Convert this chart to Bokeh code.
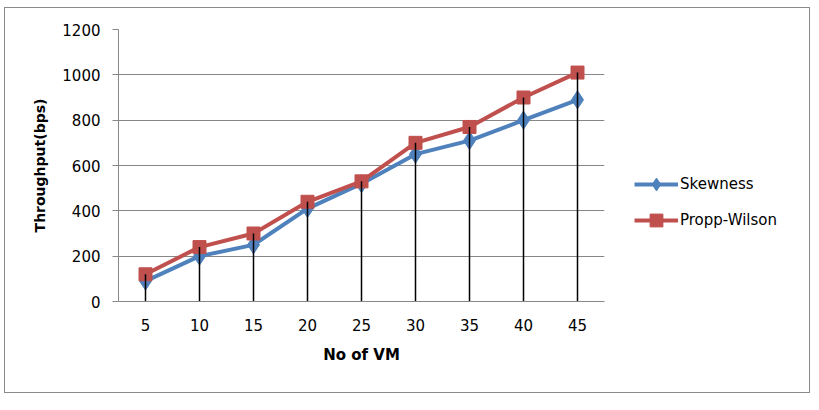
from bokeh.plotting import figure
from bokeh.models import ColumnDataSource, Legend, LegendItem, FixedTicker, Range1d, FactorRange
from bokeh.embed import file_html
from bokeh.resources import INLINE

# ---- data ----
vms = ["5", "10", "15", "20", "25", "30", "35", "40", "45"]
skewness = [90, 200, 250, 410, 520, 650, 710, 800, 890]
propp_wilson = [120, 240, 300, 440, 530, 700, 770, 900, 1010]
y_ticks = [0, 200, 400, 600, 800, 1000, 1200]

FONT = "DejaVu Sans"
BLUE = "#4F81BD"
RED = "#C0504D"
GRID = "#878787"

src = ColumnDataSource(dict(
    x=vms, s=skewness, p=propp_wilson,
    top=[max(a, b) for a, b in zip(skewness, propp_wilson)],
    zero=[0] * len(vms),
))

p = figure(
    frame_width=486, frame_height=272,
    x_range=FactorRange(factors=vms, range_padding=0),
    y_range=Range1d(0, 1200),
    output_backend="svg", toolbar_location=None,
    min_border_left=113, min_border_right=0,
    min_border_top=21, min_border_bottom=92,
)
p.margin = (7, 0, 0, 4)
p.styles = {
    "border": "1px solid #8a8a8a",
    "width": "806px",
    "height": "386px",
    "box-sizing": "border-box",
    "overflow": "hidden",
}
p.outline_line_color = None
p.background_fill_color = "white"
p.border_fill_color = "white"

# grid
p.xgrid.grid_line_color = None
p.ygrid.grid_line_color = GRID
p.ygrid.grid_line_width = 1
p.yaxis.ticker = FixedTicker(ticks=y_ticks)

# axes
for ax in (p.xaxis[0], p.yaxis[0]):
    ax.axis_line_color = GRID
    ax.major_label_text_font = FONT
    ax.major_label_text_font_size = "15px"
    ax.major_label_text_color = "#000000"
    ax.axis_label_text_font = FONT
    ax.axis_label_text_font_size = "15px"
    ax.axis_label_text_font_style = "bold"
    ax.axis_label_text_color = "#000000"
    ax.minor_tick_line_color = None

p.yaxis.major_tick_line_color = GRID
p.yaxis.major_tick_out = 6
p.yaxis.major_tick_in = 0
p.yaxis.major_label_standoff = 12
p.yaxis.axis_label = "Throughput(bps)"
p.yaxis.axis_label_text_font_size = "14px"
p.yaxis.axis_label_standoff = 11

p.xaxis.major_tick_line_color = None
p.xaxis.major_tick_out = 0
p.xaxis.major_tick_in = 0
p.xaxis.major_label_standoff = 17
p.xaxis.axis_label = "No of VM"
p.xaxis.axis_label_standoff = 12

# series
l1 = p.line("x", "s", source=src, line_color=BLUE, line_width=4)
m1 = p.scatter("x", "s", source=src, marker="diamond", size=18, fill_color=BLUE, line_color=BLUE)
l2 = p.line("x", "p", source=src, line_color=RED, line_width=4)
m2 = p.scatter("x", "p", source=src, marker="square", size=13, fill_color=RED, line_color=RED)

# drop lines
p.segment(x0="x", y0="zero", x1="x", y1="top", source=src, line_color="black", line_width=1.5)

legend = Legend(
    items=[LegendItem(label="Skewness", renderers=[l1, m1]),
           LegendItem(label="Propp-Wilson", renderers=[l2, m2])],
    location=(30, 65),
    orientation="vertical",
    padding=0, margin=0, spacing=4,
    glyph_width=44, glyph_height=32, label_height=32,
    label_standoff=2,
    label_text_font=FONT, label_text_font_size="15px", label_text_color="#000000",
    border_line_color=None, background_fill_alpha=0,
)
p.add_layout(legend, "right")

open("out.html", "w").write(file_html(p, INLINE))
